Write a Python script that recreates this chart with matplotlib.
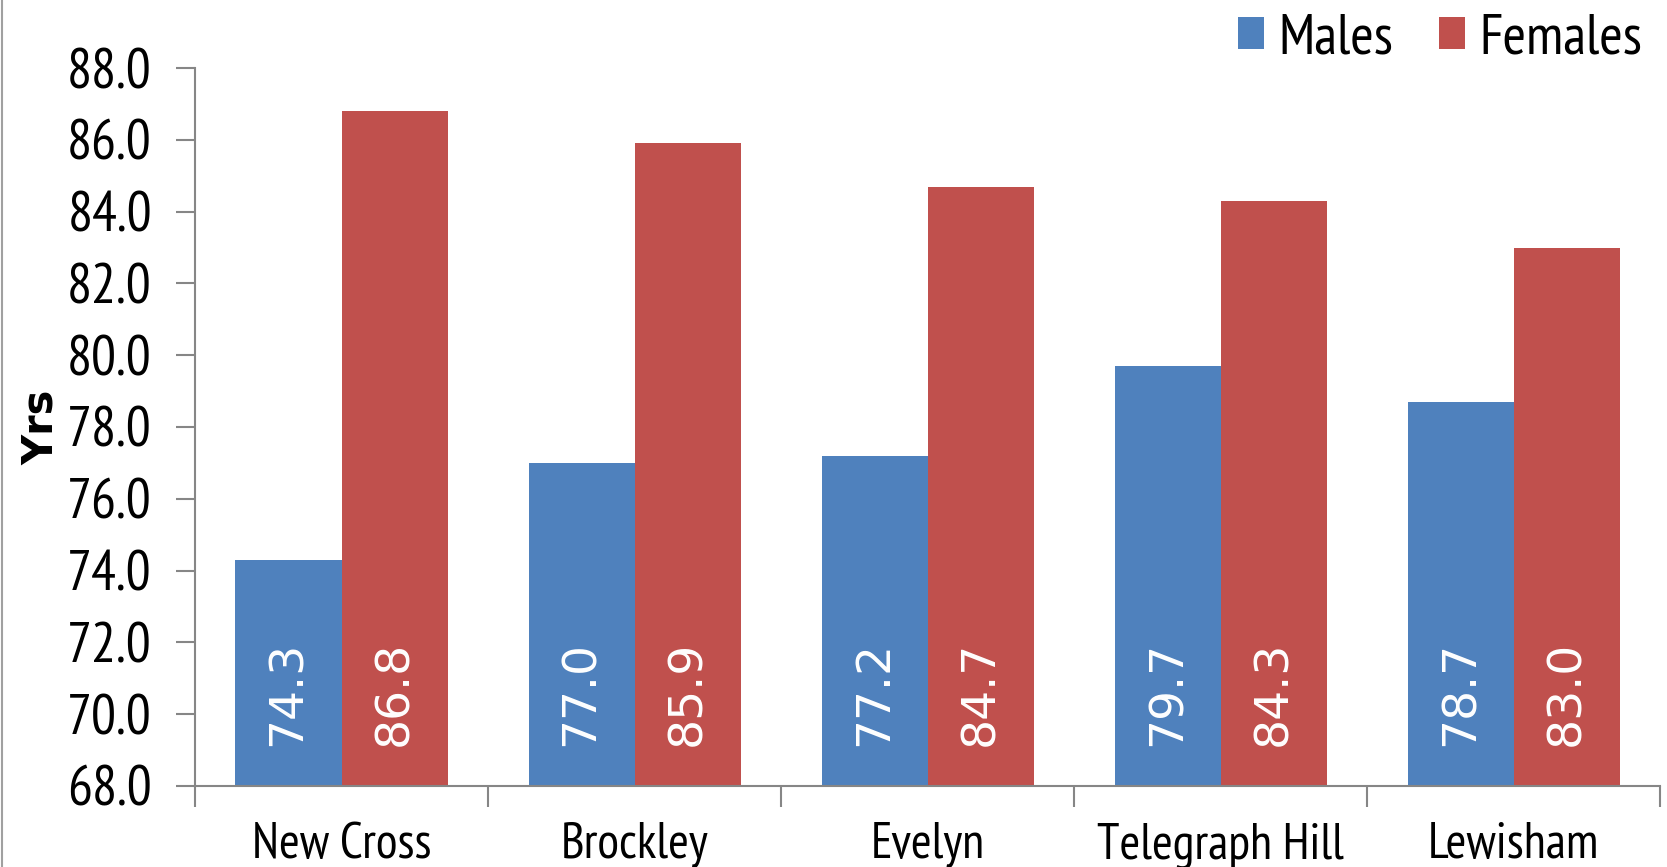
import numpy as np
import matplotlib
matplotlib.use("Agg")
import matplotlib.pyplot as plt
from matplotlib.lines import Line2D

# ======================================
# Data
# ======================================

wards = ["New Cross", "Brockley", "Evelyn", "Telegraph Hill", "Lewisham"]
males = [74.3, 77.0, 77.2, 79.7, 78.7]
females = [86.8, 85.9, 84.7, 84.3, 83.0]
yticks = [68.0, 70.0, 72.0, 74.0, 76.0, 78.0, 80.0, 82.0, 84.0, 86.0, 88.0]

BLUE = "#4F81BD"
RED = "#C0504D"
AXIS_GREY = "#868686"

NARROW = ["PT Sans Narrow", "DejaVu Sans"]

# ======================================
# Figure
# ======================================

fig = plt.figure(figsize=(16.67, 8.67), dpi=100)
ax = fig.add_axes([0.117, 0.0935, 0.879, 0.828])

x = np.arange(len(wards))
w = 0.362

b1 = ax.bar(x - w / 2, males, width=w, color=BLUE, label="Males")
b2 = ax.bar(x + w / 2, females, width=w, color=RED, label="Females")

# value labels inside the bars
for bars, vals in [(b1, males), (b2, females)]:
    for rect, v in zip(bars, vals):
        ax.text(rect.get_x() + rect.get_width() / 2, 69.1, f"{v:.1f}",
                rotation=90, ha="center", va="bottom", color="white",
                fontsize=34, family="DejaVu Sans")

ax.set_ylim(68, 88)
ax.set_xlim(-0.5, len(wards) - 0.5)
ax.set_yticks(yticks)
ax.set_yticklabels([f"{t:.1f}" for t in yticks], family=NARROW, fontsize=40)

ax.set_xticks(x)
ax.set_xticklabels(wards, family=NARROW, fontsize=36)
ax.set_xticks(np.arange(len(wards) + 1) - 0.5, minor=True)
ax.tick_params(axis="x", which="major", length=0, pad=26)
ax.tick_params(axis="x", which="minor", length=15, color=AXIS_GREY, width=1.5)
ax.tick_params(axis="y", length=14, color=AXIS_GREY, width=1.5, pad=17)

for s in ["top", "right"]:
    ax.spines[s].set_visible(False)
for s in ["left", "bottom"]:
    ax.spines[s].set_color(AXIS_GREY)
    ax.spines[s].set_linewidth(1.5)

ax.set_ylabel("Yrs", fontsize=30, fontweight="bold", family="DejaVu Sans")
ax.yaxis.set_label_coords(-0.091, 0.5)

fig.legend(handles=[b1, b2], loc="center right", bbox_to_anchor=(0.985, 0.955),
           ncol=2, frameon=False, prop={"family": NARROW, "size": 41},
           handlelength=0.46, handleheight=0.49, handletextpad=0.25,
           columnspacing=0.8, borderaxespad=0, borderpad=0)

# grey border on the left edge
fig.add_artist(Line2D([0.001, 0.001], [0, 1], transform=fig.transFigure,
                      color="#A0A0A0", linewidth=1.5))

fig.savefig("out.png", dpi=100)
